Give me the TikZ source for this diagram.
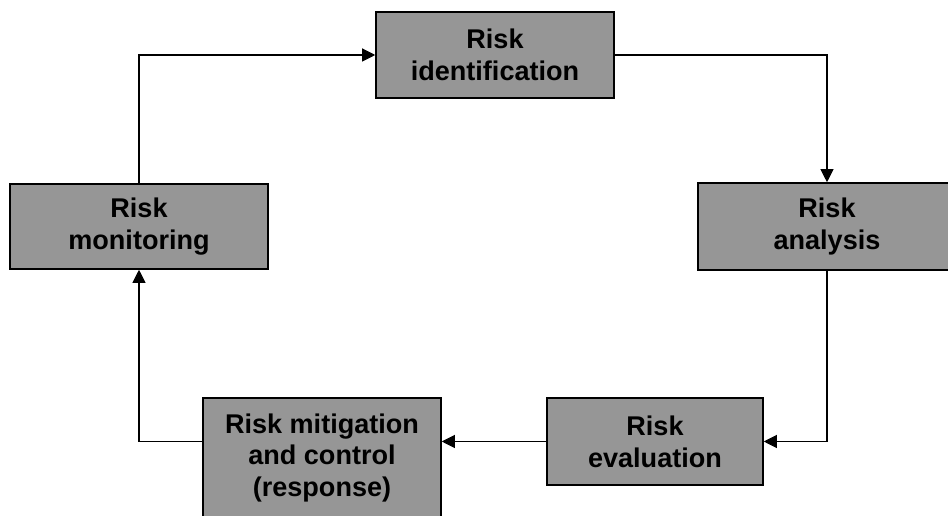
\documentclass[tikz,border=0pt]{standalone}
\usepackage{fontspec}
\setmainfont{Liberation Sans}
\usepackage{tikz}
\usepackage{xcolor}
\usetikzlibrary{arrows.meta,positioning}

\definecolor{boxgray}{RGB}{150,150,150}

\begin{document}
\begin{tikzpicture}[x=0.02cm,y=-0.02cm,
  every node/.style={inner sep=0pt,align=center,font=\fontsize{15.4}{18.2}\selectfont\bfseries},
  box/.style={rectangle,draw=black,line width=0.9pt,fill=boxgray},
  link/.style={-{Triangle[length=0.26cm,width=0.26cm]},line width=0.6pt}]
\useasboundingbox (0,0) rectangle (948,516);
\node (ident) at (495,55) [box,minimum width=4.76cm,minimum height=1.72cm] {Risk\\identification};
\node (anal) at (827,226.5) [box,minimum width=5.16cm,minimum height=1.74cm] {Risk\\analysis};
\node (eval) at (655,441.5) [box,minimum width=4.32cm,minimum height=1.74cm] {Risk\\evaluation};
\node (mitig) at (322,458) [box,minimum width=4.76cm,minimum height=2.4cm] {Risk mitigation\\and control\\(response)};
\node (monit) at (139,226.5) [box,minimum width=5.16cm,minimum height=1.7cm] {Risk\\monitoring};
\draw[link] (monit.north) |- (ident.west);
\draw[link] (ident.east) -| (anal.north);
\draw[link] (anal.south) |- (eval.east);
\draw[link] (eval.west) -- (eval.west -| mitig.east);
\draw[link] (mitig.west |- eval.west) -| (monit.south);
\end{tikzpicture}
\end{document}
